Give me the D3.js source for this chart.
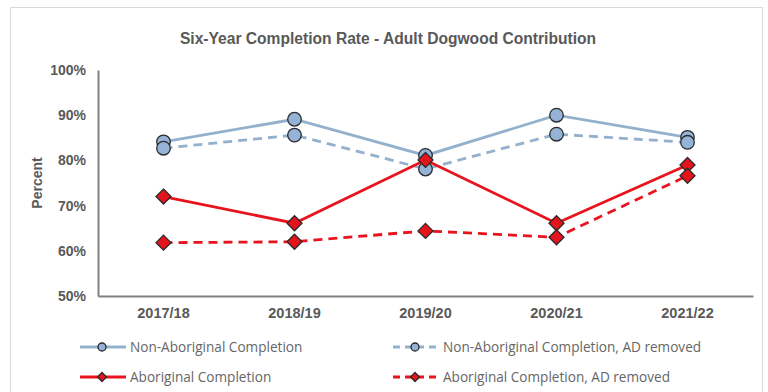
<!DOCTYPE html>
<html>
<head>
<meta charset="utf-8">
<script src="https://cdn.jsdelivr.net/npm/d3@7"></script>
<style>
  body { margin: 0; background: #fff; }
  svg { display: block; }
</style>
</head>
<body>
<svg id="chart" width="768" height="392"></svg>
<script>
const categories = ["2017/18", "2018/19", "2019/20", "2020/21", "2021/22"];
const nonAboriginal = [84.1, 89.1, 81.1, 90.0, 85.1];
const nonAboriginalADRemoved = [82.7, 85.6, 78.1, 85.8, 84.0];
const aboriginal = [72.0, 66.1, 80.1, 66.1, 79.0];
const aboriginalADRemoved = [61.8, 62.0, 64.4, 63.0, 76.6];
const yTicks = [50, 60, 70, 80, 90, 100];
const titleText = "Six-Year Completion Rate - Adult Dogwood Contribution";
const yAxisLabel = "Percent";

const series = [
  { name: "Non-Aboriginal Completion", values: nonAboriginal, color: "#93B1CD", fill: "#95B3D7", dash: null, shape: "circle" },
  { name: "Non-Aboriginal Completion, AD removed", values: nonAboriginalADRemoved, color: "#93B1CD", fill: "#95B3D7", dash: "9,6", shape: "circle" },
  { name: "Aboriginal Completion", values: aboriginal, color: "#E8141D", fill: "#E3141C", dash: null, shape: "diamond" },
  { name: "Aboriginal Completion, AD removed", values: aboriginalADRemoved, color: "#E8141D", fill: "#E3141C", dash: "9,6", shape: "diamond" }
];

const svg = d3.select("#chart");
const textColor = "#595959";

// outer border
svg.append("rect").attr("x", 10.5).attr("y", 7.5).attr("width", 752).attr("height", 400)
  .attr("fill", "#fff").attr("stroke", "#d9d9d9").attr("stroke-width", 1);

svg.append("text").attr("x", 388).attr("y", 44).attr("text-anchor", "middle")
  .attr("font-family", "Liberation Sans, Arial, sans-serif").attr("font-weight", "bold")
  .attr("font-size", 15.6).attr("fill", textColor).text(titleText);

const x = d3.scaleBand().domain(categories).range([98, 753]);
const y = d3.scaleLinear().domain([50, 100]).range([296, 70]);

// y axis
const yAxis = svg.append("g").attr("transform", "translate(98,0)")
  .call(d3.axisLeft(y).tickValues(yTicks).tickFormat(d => d + "%").tickSize(0).tickPadding(12));
yAxis.select(".domain").attr("stroke", "#808080").attr("stroke-width", 2);
yAxis.selectAll("text").attr("font-family", "Liberation Sans, Arial, sans-serif")
  .attr("font-weight", "bold").attr("font-size", 14).attr("fill", textColor);

// x axis
const xAxis = svg.append("g").attr("transform", "translate(0,296)")
  .call(d3.axisBottom(x).tickSize(0).tickPadding(12));
xAxis.select(".domain").attr("stroke", "#808080").attr("stroke-width", 2);
xAxis.selectAll("text").attr("font-family", "Liberation Sans, Arial, sans-serif")
  .attr("font-weight", "bold").attr("font-size", 14.5).attr("fill", textColor);

svg.append("text").attr("transform", "translate(42,183) rotate(-90)").attr("text-anchor", "middle")
  .attr("font-family", "Liberation Sans, Arial, sans-serif").attr("font-weight", "bold")
  .attr("font-size", 14).attr("fill", textColor).text(yAxisLabel);

const cx = c => x(c) + x.bandwidth() / 2;
const line = d3.line().x((d, i) => cx(categories[i])).y(d => y(d));

function drawMarker(g, shape, px, py, size, fill) {
  if (shape === "circle") {
    g.append("circle").attr("cx", px).attr("cy", py).attr("r", size)
      .attr("fill", fill).attr("stroke", "#2b2b2b").attr("stroke-width", 1.3);
  } else {
    const s = size;
    g.append("path").attr("d", `M${px},${py - s}L${px + s},${py}L${px},${py + s}L${px - s},${py}Z`)
      .attr("fill", fill).attr("stroke", "#2b2b2b").attr("stroke-width", 1.3);
  }
}

series.forEach(s => {
  const g = svg.append("g");
  g.append("path").attr("d", line(s.values)).attr("fill", "none")
    .attr("stroke", s.color).attr("stroke-width", 2.8)
    .attr("stroke-dasharray", s.dash);
  s.values.forEach((v, i) => drawMarker(g, s.shape, cx(categories[i]), y(v), s.shape === "circle" ? 6.8 : 7.5, s.fill));
});

// legend
const legendPos = [
  { x: 80, y: 347 }, { x: 393, y: 347 }, { x: 80, y: 377 }, { x: 393, y: 377 }
];
series.forEach((s, i) => {
  const p = legendPos[i];
  const g = svg.append("g");
  g.append("line").attr("x1", p.x).attr("x2", p.x + 46).attr("y1", p.y).attr("y2", p.y)
    .attr("stroke", s.color).attr("stroke-width", 2.8).attr("stroke-dasharray", s.dash ? "7,5" : null);
  drawMarker(g, s.shape, p.x + 22, p.y, s.shape === "circle" ? 4 : 4.5, s.fill);
  g.append("text").attr("x", p.x + 50).attr("y", p.y).attr("dy", "0.35em")
    .attr("font-family", "Open Sans, Liberation Sans, sans-serif").attr("font-size", 13.6)
    .attr("fill", "#666666").text(s.name);
});
</script>
</body>
</html>
